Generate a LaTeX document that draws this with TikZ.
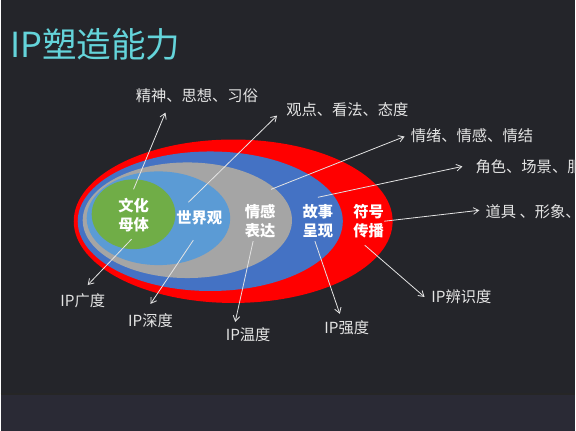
\documentclass[tikz,border=0pt]{standalone}
\usepackage{fontspec}
\setmainfont{Noto Sans CJK SC}
\definecolor{bgdark}{RGB}{36,37,42}
\definecolor{bgband}{RGB}{42,42,53}
\definecolor{ipcyan}{RGB}{100,212,218}
\definecolor{ipred}{RGB}{255,0,0}
\definecolor{ipblue}{RGB}{68,114,196}
\definecolor{ipgray}{RGB}{165,165,165}
\definecolor{iplight}{RGB}{91,155,213}
\definecolor{ipgreen}{RGB}{112,173,71}
\definecolor{iptext}{RGB}{228,228,228}
\usetikzlibrary{arrows.meta}

\begin{document}
\begin{tikzpicture}[x=0.75pt, y=-0.75pt,
        lbl/.style={text=iptext, font=\fontsize{11.5}{13}\selectfont, inner sep=0pt},
        core/.style={text=white, font=\fontsize{11.5}{14.5}\selectfont\bfseries, align=center, inner sep=0pt},
        arr/.style={-{Straight Barb[length=4pt,width=5pt]}, iptext, line width=0.6pt}
      ]
        % background
        \fill[bgdark] (0,0) rectangle (576,396);
        \fill[bgband] (0,396) rectangle (576,432);
        \draw[black!85, line width=1.5pt] (0,395) -- (576,395);
        \useasboundingbox (0,0) rectangle (576,432);

        \node[anchor=west, text=ipcyan, font=\fontsize{26}{30}\selectfont, inner sep=0pt] (title) at (9,45) {IP塑造能力};

        % nested ellipses
        \fill[ipred]   (233,222) ellipse [x radius=160, y radius=82];
        \fill[ipblue]  (210,222) ellipse [x radius=133, y radius=70];
        \fill[ipgray]  (187,221) ellipse [x radius=105, y radius=58];
        \fill[iplight] (158,219) ellipse [x radius=72,  y radius=47];
        \fill[ipgreen] (133,215) ellipse [x radius=42,  y radius=35];

        \node[core] (wenhua)  at (133,216) {文化\\母体};
        \node[core] (shijie)  at (199,219) {世界观};
        \node[core] (qinggan) at (260,222) {情感\\表达};
        \node[core] (gushi)   at (318,222) {故事\\呈现};
        \node[core] (fuhao)   at (369,222) {符号\\传播};

        % labels
        \node[lbl, anchor=west] (jingshen) at (135,96)  {精神、思想、习俗};
        \node[lbl, anchor=west] (guandian) at (286,110) {观点、看法、态度};
        \node[lbl, anchor=west] (qingxu)   at (411,136) {情绪、情感、情结};
        \node[lbl, anchor=west] (juese)    at (476,167) {角色、场景、服装};
        \node[lbl, anchor=west] (daoju)    at (486,212) {道具 、形象、标识};

        \node[lbl] (guangdu)  at (82,302)  {IP广度};
        \node[lbl] (shendu)   at (150,322) {IP深度};
        \node[lbl] (wendu)    at (248,336) {IP温度};
        \node[lbl] (qiangdu)  at (347,329) {IP强度};
        \node[lbl] (bianshi)  at (462,298) {IP辨识度};

        % arrow ends
        \coordinate (wh-up)  at (133,190);
        \coordinate (sj-up)  at (188,203);
        \coordinate (qg-up)  at (271,190);
        \coordinate (gs-up)  at (318,198);
        \coordinate (wh-dn)  at (131,240);
        \coordinate (sj-dn)  at (193,241);
        \coordinate (qg-dn)  at (253,242);
        \coordinate (gs-dn)  at (315,242);
        \coordinate (fh-dn)  at (365,246);
        \coordinate (t-jing) at (165,113);
        \coordinate (t-guan) at (277,116);
        \coordinate (t-qing) at (405,137);
        \coordinate (t-jue)  at (463,167);
        \coordinate (t-dao)  at (480,211);
        \coordinate (t-guang) at (87,286);
        \coordinate (t-shen) at (150,305);
        \coordinate (t-wen)  at (235,323);
        \coordinate (t-qiang) at (340,315);
        \coordinate (t-bian) at (425,298);

        \draw[arr] (wh-up) -- (t-jing);
        \draw[arr] (sj-up) -- (t-guan);
        \draw[arr] (qg-up) -- (t-qing);
        \draw[arr] (gs-up) -- (t-jue);
        \draw[arr] (fuhao.east) -- (t-dao);
        \draw[arr] (wh-dn) -- (t-guang);
        \draw[arr] (sj-dn) -- (t-shen);
        \draw[arr] (qg-dn) -- (t-wen);
        \draw[arr] (gs-dn) -- (t-qiang);
        \draw[arr] (fh-dn) -- (t-bian);
      \end{tikzpicture}
\end{document}
